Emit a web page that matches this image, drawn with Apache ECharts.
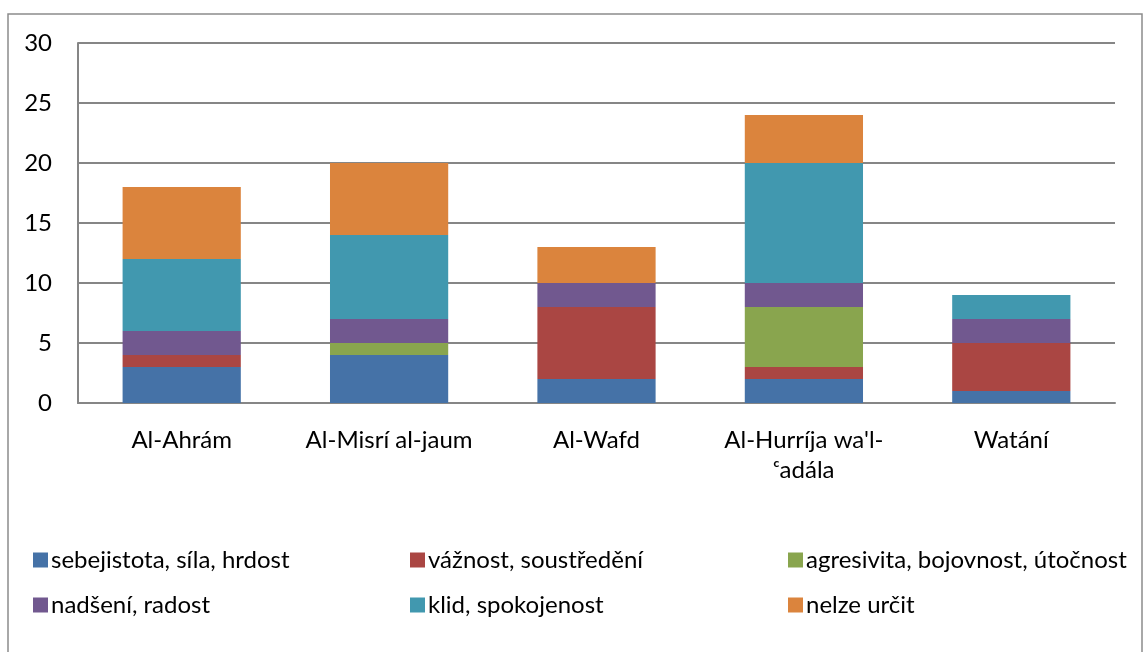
<!DOCTYPE html>
<html>
<head>
<meta charset="utf-8">
<script src="https://cdn.jsdelivr.net/npm/echarts@6/dist/echarts.min.js"></script>
<style>
  html, body { margin: 0; padding: 0; background: #fff; }
  #main { width: 1144px; height: 652px; }
</style>
</head>
<body>
<div id="main"></div>
<script>
var categories = ['Al-Ahrám', 'Al-Misrí al-jaum', 'Al-Wafd', "Al-Hurríja wa'l-\nᶜadála", 'Watání'];
var seriesNames = ['sebejistota, síla, hrdost', 'vážnost, soustředění', 'agresivita, bojovnost, útočnost',
                   'nadšení, radost', 'klid, spokojenost', 'nelze určit'];
var sebejistota = [3, 4, 2, 2, 1];
var vaznost     = [1, 0, 6, 1, 4];
var agresivita  = [0, 1, 0, 5, 0];
var nadseni     = [2, 2, 2, 2, 2];
var klid        = [6, 7, 0, 10, 2];
var nelze       = [6, 6, 3, 4, 0];
var colors = ['#4572A7', '#AA4643', '#89A54E', '#71588F', '#4198AF', '#DB843D'];

var myChart = echarts.init(document.getElementById('main'));
var font = 'Lato, "Open Sans", "DejaVu Sans", sans-serif';
var values = [sebejistota, vaznost, agresivita, nadseni, klid, nelze];

var series = [];
for (var i = 0; i < seriesNames.length; i++) {
    series.push({
        name: seriesNames[i],
        type: 'bar',
        stack: 'total',
        barWidth: '57%',
        data: values[i],
        itemStyle: { color: colors[i] }
    });
}

// legend is laid out in 3 columns, 2 rows (column-wise: items i and i+3)
var legendCols = [28, 405, 783];
var legends = legendCols.map(function (x, c) {
    return {
        orient: 'vertical',
        left: x,
        top: 542,
        itemWidth: 15,
        itemHeight: 15,
        itemGap: 19,
        icon: 'rect',
        textStyle: { fontFamily: font, fontSize: 24, lineHeight: 26, color: '#000', padding: [0, 0, 0, -2] },
        data: [seriesNames[c], seriesNames[c + 3]]
    };
});

var option = {
    animation: false,
    color: colors,
    graphic: [{
        type: 'rect',
        shape: { x: 8, y: 14, width: 1134, height: 660 },
        style: { fill: 'none', stroke: '#8c8c8c', lineWidth: 1.5 },
        silent: true
    }],
    grid: { left: 78, right: 29, top: 43, bottom: 249, containLabel: false },
    legend: legends,
    xAxis: {
        type: 'category',
        data: categories,
        axisLine: { lineStyle: { color: '#868686', width: 2 } },
        axisTick: { show: false },
        axisLabel: { fontFamily: font, fontSize: 24, color: '#000', margin: 22, lineHeight: 30, interval: 0 }
    },
    yAxis: {
        type: 'value',
        min: 0,
        max: 30,
        interval: 5,
        axisLine: { show: true, lineStyle: { color: '#868686', width: 2 } },
        axisTick: { show: false },
        splitLine: { lineStyle: { color: '#868686', width: 2 } },
        axisLabel: { fontFamily: font, fontSize: 24, color: '#000', margin: 26 }
    },
    series: series
};
myChart.setOption(option);
</script>
</body>
</html>
